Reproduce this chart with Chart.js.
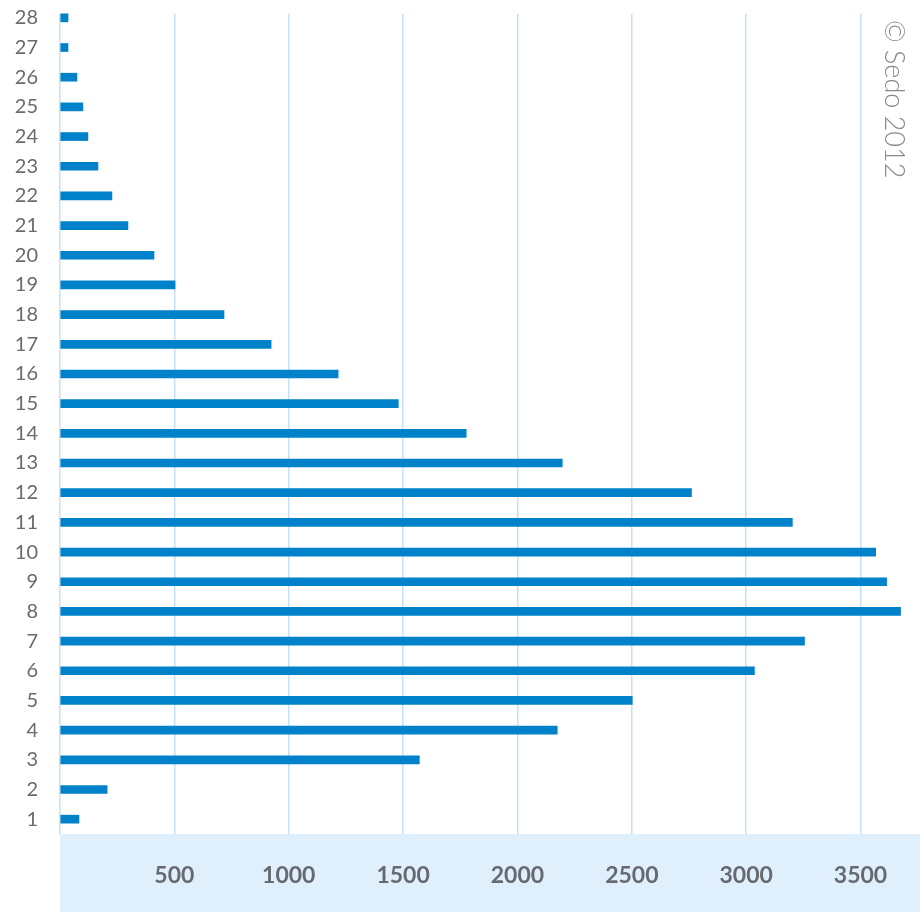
<!DOCTYPE html>
<html>
<head>
<meta charset="utf-8">
<script src="https://cdn.jsdelivr.net/npm/chart.js@4.4.0/dist/chart.umd.min.js"></script>
<style>
    body { margin: 0; background: #fff; }
    #wrap { width: 924px; height: 912px; }
</style>
</head>
<body>
<div id="wrap"><canvas id="myChart"></canvas></div>
<script>
const labels = ['1', '2', '3', '4', '5', '6', '7', '8', '9', '10', '11', '12', '13', '14',
    '15', '16', '17', '18', '19', '20', '21', '22', '23', '24', '25', '26', '27', '28'];
const counts = [83, 206, 1571, 2174, 2502, 3036, 3255, 3675, 3614, 3566, 3202, 2761, 2196, 1776,
    1479, 1216, 923, 717, 503, 411, 297, 227, 166, 122, 100, 74, 35, 35];
const xTicks = [0, 500, 1000, 1500, 2000, 2500, 3000, 3500];
const copyright = '© Sedo 2012';

const ctx = document.getElementById('myChart');

// light blue band behind the x tick labels, gridlines start a bit lower, rotated copyright
const extras = {
    id: 'extras',
    beforeDraw(chart) {
        const c = chart.ctx;
        const a = chart.chartArea;
        c.save();
        c.fillStyle = '#dfeffb';
        c.fillRect(a.left, a.bottom, a.right - a.left, chart.height - a.bottom);
        c.restore();
    },
    beforeDatasetsDraw(chart) {
        const c = chart.ctx;
        const a = chart.chartArea;
        c.save();
        c.fillStyle = '#ffffff';
        c.fillRect(a.left - 2, 0, a.right - a.left + 4, 14);
        c.restore();
    },
    afterDraw(chart) {
        const c = chart.ctx;
        c.save();
        c.translate(885, 20);
        c.rotate(Math.PI / 2);
        c.font = '300 27px Lato';
        c.fillStyle = '#8a8a8a';
        c.textBaseline = 'alphabetic';
        c.fillText(copyright, 0, 0);
        c.restore();
    }
};

new Chart(ctx, {
    type: 'bar',
    data: {
        labels: labels,
        datasets: [{
            data: counts,
            backgroundColor: '#0082ca',
            barThickness: 8
        }]
    },
    plugins: [extras],
    options: {
        indexAxis: 'y',
        responsive: true,
        maintainAspectRatio: false,
        animation: false,
        layout: { padding: { top: 3, right: 4 } },
        plugins: {
            legend: { display: false },
            tooltip: { enabled: false }
        },
        scales: {
            x: {
                min: 0,
                max: 3760,
                afterBuildTicks: (scale) => {
                    scale.ticks = xTicks.map(v => ({ value: v }));
                },
                afterFit: (scale) => {
                    scale.height = 78;
                    scale.paddingLeft = 0;
                    scale.paddingRight = 0;
                },
                border: { display: false },
                grid: {
                    color: '#c3e2f6',
                    lineWidth: 1.5,
                    drawTicks: false
                },
                ticks: {
                    padding: 28,
                    color: '#666a70',
                    font: { family: 'Lato', size: 23, weight: 'bold' },
                    callback: (v) => v === 0 ? '' : v
                }
            },
            y: {
                reverse: true,
                afterFit: (scale) => {
                    scale.width = 60;
                    scale.paddingTop = 0;
                    scale.paddingBottom = 0;
                },
                border: { display: false },
                grid: { display: false },
                ticks: {
                    padding: 14,
                    color: '#6a6a6a',
                    font: { family: 'Lato', size: 20 }
                }
            }
        }
    }
});
</script>
</body>
</html>
